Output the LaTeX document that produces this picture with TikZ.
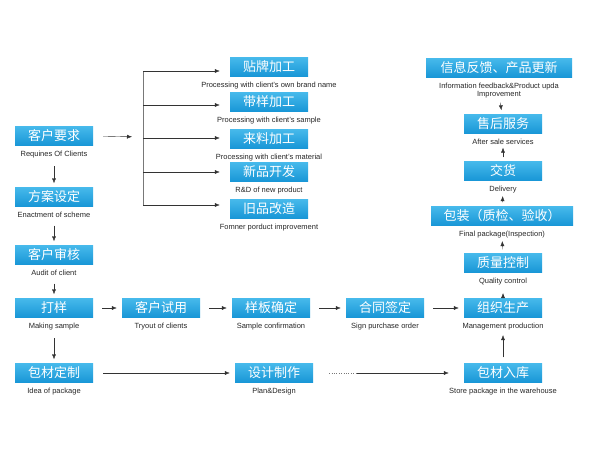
\documentclass[tikz,border=0pt]{standalone}
\usepackage{fontspec}
\setmainfont{Liberation Sans}
\newfontfamily\cjk{Noto Sans CJK SC}
\usetikzlibrary{positioning,arrows.meta}
\definecolor{boxblue}{RGB}{24,150,214}
\definecolor{boxtop}{RGB}{70,185,235}
\definecolor{lineg}{RGB}{120,120,120}
\tikzset{
  stepbox/.style={draw=none, top color=boxtop, bottom color=boxblue, text=white,
    minimum width=78pt, minimum height=19pt, inner sep=0pt, font=\cjk\fontsize{13}{13}\selectfont},
  widebox/.style={stepbox, minimum width=142pt},
  sub/.style={font=\fontsize{7.5}{8.5}\selectfont, text=black!85, inner sep=0pt, align=center},
  arr/.style={draw=lineg, -{Latex[length=5pt,width=4pt]}, black!80},
  link/.style={draw=lineg}
}
\begin{document}
\begin{tikzpicture}[x=1pt,y=-1pt]
  \useasboundingbox (0,0) rectangle (600,450);

  % Left column
  \node[stepbox] (req) at (54,136) {客户要求};
  \node[sub, below=5pt of req] (reqL) {Requines Of Clients};
  \node[stepbox] (scheme) at (54,197) {方案设定};
  \node[sub, below=5pt of scheme] (schemeL) {Enactment of scheme};
  \node[stepbox] (audit) at (54,255) {客户审核};
  \node[sub, below=5pt of audit] (auditL) {Audit of client};
  \node[stepbox] (sample) at (54,308) {打样};
  \node[sub, below=5pt of sample] (sampleL) {Making sample};
  \node[stepbox] (pack) at (54,373) {包材定制};
  \node[sub, below=5pt of pack] (packL) {Idea of package};

  % Processing options
  \node[stepbox] (opt1) at (269,67) {贴牌加工};
  \node[sub, below=5pt of opt1] (opt1L) {Processing with client's own brand name};
  \node[stepbox] (opt2) at (269,102) {带样加工};
  \node[sub, below=5pt of opt2] (opt2L) {Processing with client's sample};
  \node[stepbox] (opt3) at (269,139) {来料加工};
  \node[sub, below=5pt of opt3] (opt3L) {Processing with client's material};
  \node[stepbox] (opt4) at (269,172) {新品开发};
  \node[sub, below=5pt of opt4] (opt4L) {R\&D of new product};
  \node[stepbox] (opt5) at (269,209) {旧品改造};
  \node[sub, below=5pt of opt5] (opt5L) {Fomner porduct improvement};

  % Middle row
  \node[stepbox] (tryout) at (161,308) {客户试用};
  \node[sub, below=5pt of tryout] (tryoutL) {Tryout of clients};
  \node[stepbox] (confirm) at (271,308) {样板确定};
  \node[sub, below=5pt of confirm] (confirmL) {Sample confirmation};
  \node[stepbox] (sign) at (385,308) {合同签定};
  \node[sub, below=5pt of sign] (signL) {Sign purchase order};
  \node[stepbox] (produce) at (503,308) {组织生产};
  \node[sub, below=5pt of produce] (produceL) {Management production};
  \node[stepbox] (design) at (274,373) {设计制作};
  \node[sub, below=5pt of design] (designL) {Plan\&Design};
  \node[stepbox] (store) at (503,373) {包材入库};
  \node[sub, below=5pt of store] (storeL) {Store package in the warehouse};

  % Right column
  \node[stepbox] (quality) at (503,263) {质量控制};
  \node[sub, below=5pt of quality] (qualityL) {Quality control};
  \node[widebox] (final) at (502,216) {包装（质检、验收）};
  \node[sub, below=5pt of final] (finalL) {Final package(Inspection)};
  \node[stepbox] (deliver) at (503,171) {交货};
  \node[sub, below=5pt of deliver] (deliverL) {Delivery};
  \node[stepbox] (service) at (503,124) {售后服务};
  \node[sub, below=5pt of service] (serviceL) {After sale services};
  \node[widebox, minimum width=146pt] (info) at (499,68) {信息反馈、产品更新};
  \node[sub, below=5pt of info] (infoL) {Information feedback\&Product upda\\Improvement};

  % Fork
  \coordinate (hub) at (143,137);
  \coordinate (forkT) at (143,71);
  \coordinate (forkB) at (143,205);
  \draw[arr, shorten <=10pt, shorten >=11pt] (req.east) -- (hub);
  \draw[link] (forkT) -- (forkB);
  \foreach \o/\y in {opt1/71,opt2/105,opt3/138,opt4/172,opt5/205} {
    \coordinate (br) at (143,\y);
    \draw[arr, shorten >=10pt] (br) -- (br -| \o.west);
  }

  % Vertical chains
  \foreach \a/\b in {reqL/scheme,schemeL/audit,auditL/sample,sampleL/pack}
    \draw[arr, shorten <=8pt, shorten >=4pt] (\a) -- (\b);
  \draw[arr, shorten <=3pt, shorten >=8pt] (produce) -- (qualityL);
  \foreach \a/\b in {quality/finalL,final/deliverL,deliver/serviceL}
    \draw[arr, shorten <=4pt, shorten >=3pt] (\a) -- (\b);
  \draw[arr, shorten <=4pt, shorten >=4pt] (infoL) -- (service);
  \draw[arr, shorten <=6pt, shorten >=5pt] (store) -- (produceL);

  % Horizontal row
  \foreach \a/\b in {sample/tryout,tryout/confirm,confirm/sign,sign/produce}
    \draw[arr, shorten <=9pt, shorten >=5pt] (\a) -- (\b);
  \draw[arr, shorten <=10pt, shorten >=5pt] (pack) -- (design);
  \draw[link, dotted] ([xshift=16pt]design.east) -- ++(28pt,0) coordinate (dotE);
  \draw[arr, shorten >=15pt] (dotE) -- (store.west);
\end{tikzpicture}
\end{document}
